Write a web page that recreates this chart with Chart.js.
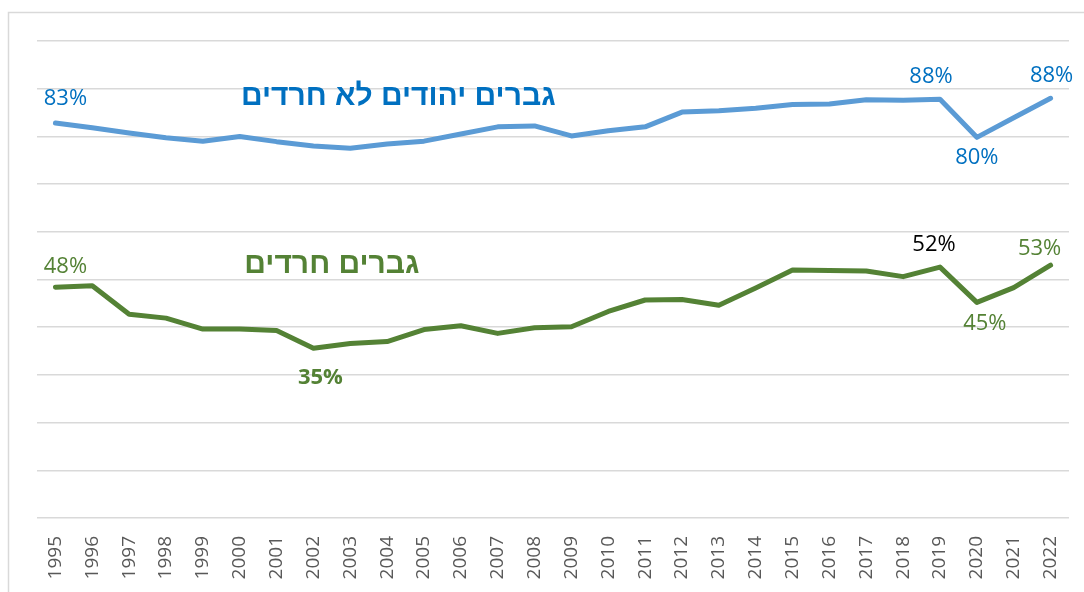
<!DOCTYPE html>
<html>
<head>
<meta charset="utf-8">
<script src="https://cdn.jsdelivr.net/npm/chart.js@4"></script>
<style>
  html, body { margin: 0; padding: 0; background: #fff; }
  #wrap { width: 1084px; height: 592px; }
</style>
</head>
<body>
<div id="wrap"><canvas id="chart" width="1084" height="592"></canvas></div>
<script>
// données
const years = ['1995','1996','1997','1998','1999','2000','2001','2002','2003','2004','2005','2006','2007','2008',
  '2009','2010','2011','2012','2013','2014','2015','2016','2017','2018','2019','2020','2021','2022'];
const nonHaredi = [82.8, 81.8, 80.7, 79.7, 79.0, 80.0, 78.9, 78.0, 77.5, 78.4, 79.0, 80.5, 82.0, 82.2,
  80.1, 81.2, 82.0, 85.1, 85.4, 85.9, 86.7, 86.8, 87.7, 87.6, 87.8, 79.8, 83.9, 88.0];
const haredi = [48.4, 48.7, 42.7, 41.9, 39.6, 39.6, 39.3, 35.6, 36.6, 37.0, 39.5, 40.3, 38.7, 39.9,
  40.1, 43.3, 45.7, 45.8, 44.6, 48.2, 52.0, 51.9, 51.8, 50.6, 52.6, 45.2, 48.3, 53.0];
const yTicks = [0, 10, 20, 30, 40, 50, 60, 70, 80, 90, 100];

const blueLine = '#5B9BD5';
const blueText = '#0070C0';
const green = '#548235';

// étiquettes de valeurs affichées (décalage par rapport au point)
const pointLabels = [
  { ds: 0, i: 0, text: '83%', dx: 10, dy: -24, color: blueText },
  { ds: 0, i: 24, text: '88%', dx: -9, dy: -22, color: blueText },
  { ds: 0, i: 25, text: '80%', dx: 0, dy: 20, color: blueText },
  { ds: 0, i: 27, text: '88%', dx: 1, dy: -23, color: blueText },
  { ds: 1, i: 0, text: '48%', dx: 10, dy: -20, color: green },
  { ds: 1, i: 7, text: '35%', dx: 7, dy: 30, color: green, bold: true },
  { ds: 1, i: 24, text: '52%', dx: -6, dy: -22, color: '#000' },
  { ds: 1, i: 25, text: '45%', dx: 8, dy: 21, color: green },
  { ds: 1, i: 27, text: '53%', dx: -11, dy: -16, color: green }
];

// titres des séries (ancrés sur les échelles)
const seriesTitles = [
  { text: 'גברים יהודים לא חרדים', x: 9.3, y: 88.3, color: blueText },
  { text: 'גברים חרדים', x: 7.5, y: 53.0, color: green }
];

const frame = {
  id: 'frame',
  beforeDraw(c) {
    const ctx = c.ctx;
    ctx.save();
    ctx.fillStyle = '#fff';
    ctx.fillRect(0, 0, c.width, c.height);
    ctx.strokeStyle = '#d9d9d9';
    ctx.lineWidth = 1.5;
    ctx.strokeRect(8.5, 12.5, 1400, 900);
    ctx.restore();
  }
};

const labels = {
  id: 'labels',
  afterDatasetsDraw(c) {
    const ctx = c.ctx;
    ctx.save();
    ctx.textAlign = 'center';
    ctx.textBaseline = 'middle';
    pointLabels.forEach(l => {
      const p = c.getDatasetMeta(l.ds).data[l.i];
      ctx.font = (l.bold ? 'bold ' : '') + '22px "Open Sans"';
      ctx.fillStyle = l.color;
      ctx.fillText(l.text, p.x + l.dx, p.y + l.dy);
    });
    ctx.font = 'bold 30px "Liberation Sans"';
    seriesTitles.forEach(t => {
      ctx.fillStyle = t.color;
      ctx.fillText(t.text, c.scales.x.getPixelForValue(t.x), c.scales.y.getPixelForValue(t.y));
    });
    ctx.restore();
  }
};

new Chart(document.getElementById('chart'), {
  type: 'line',
  data: {
    labels: years,
    datasets: [
      { data: nonHaredi, borderColor: blueLine, borderWidth: 5, pointRadius: 0, tension: 0, borderJoinStyle: 'round', borderCapStyle: 'round' },
      { data: haredi, borderColor: green, borderWidth: 5, pointRadius: 0, tension: 0, borderJoinStyle: 'round', borderCapStyle: 'round' }
    ]
  },
  options: {
    responsive: false,
    animation: false,
    layout: { padding: { left: 37, right: 15, top: 41, bottom: 0 } },
    plugins: { legend: { display: false }, tooltip: { enabled: false } },
    scales: {
      x: {
        offset: true,
        grid: { display: false },
        border: { display: false },
        afterFit: s => { s.height = 74; },
        ticks: {
          autoSkip: false, maxRotation: 90, minRotation: 90, padding: 10,
          color: '#595959', font: { family: '"Open Sans"', size: 19 }
        }
      },
      y: {
        min: 0, max: 100,
        afterBuildTicks: s => { s.ticks = yTicks.map(v => ({ value: v })); },
        grid: { color: '#d9d9d9', lineWidth: 1.5, drawTicks: false },
        border: { display: false },
        ticks: { display: false }
      }
    }
  },
  plugins: [frame, labels]
});
</script>
</body>
</html>
